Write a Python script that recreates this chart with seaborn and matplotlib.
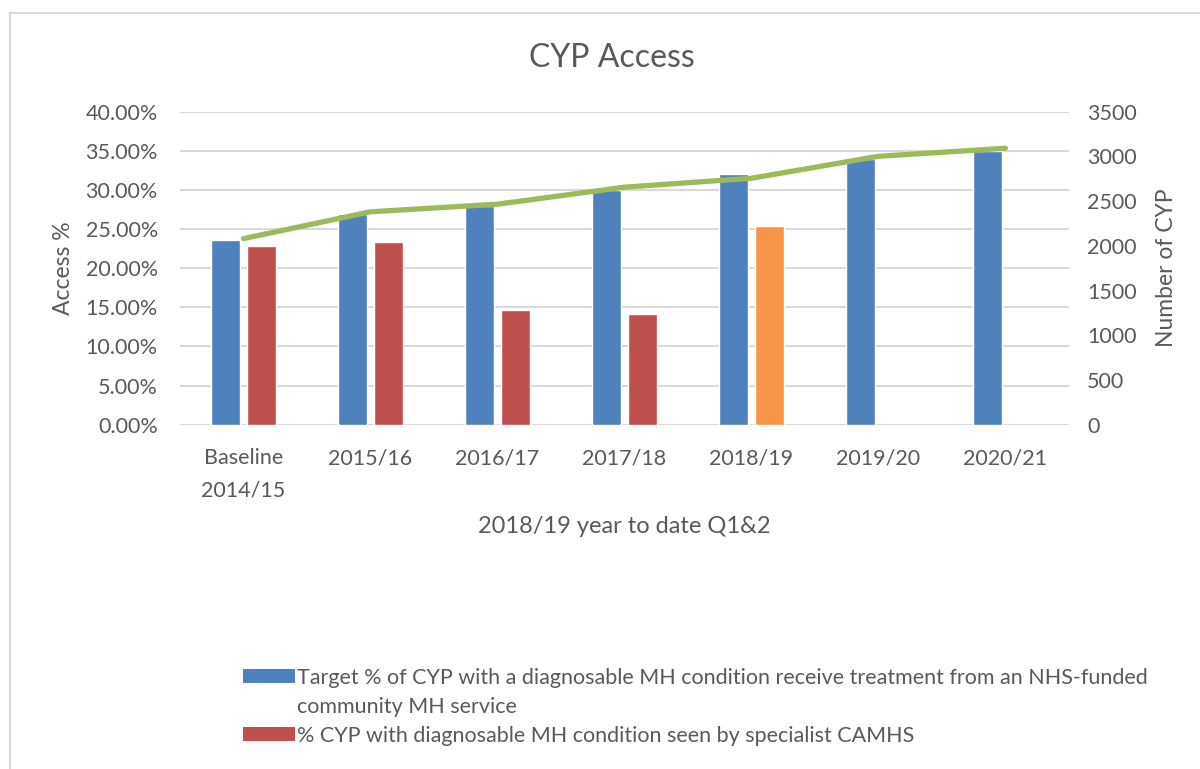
import numpy as np
import pandas as pd
import matplotlib
matplotlib.use("Agg")
import matplotlib.pyplot as plt
import seaborn as sns
from matplotlib.ticker import FuncFormatter, MultipleLocator
from matplotlib.patches import Patch
from matplotlib.lines import Line2D

categories = ["Baseline\n2014/15", "2015/16", "2016/17", "2017/18", "2018/19", "2019/20", "2020/21"]
target_pct = [0.236, 0.269, 0.280, 0.300, 0.320, 0.340, 0.350]
camhs_pct = [0.228, 0.234, 0.147, 0.142, 0.254, np.nan, np.nan]
number_cyp = [2080, 2380, 2465, 2655, 2755, 3000, 3090]

series_target = "Target % of CYP with a diagnosable MH condition receive treatment from an NHS-funded"
series_target_cont = "community MH service"
series_camhs = "% CYP with diagnosable MH condition seen by specialist CAMHS"

BLUE = "#4F81BD"
RED = "#C0504D"
ORANGE = "#F79646"
GREEN = "#9BBB59"
GRID = "#D9D9D9"
TXT = "#595959"

sns.set_theme(style="white")
plt.rcParams["font.family"] = ["Lato", "DejaVu Sans"]

TICK_FS = 15.5

df = pd.DataFrame({
    "Year": categories * 2,
    "Series": [series_target] * len(categories) + [series_camhs] * len(categories),
    "Value": target_pct + camhs_pct,
})

fig = plt.figure(figsize=(12, 7.69), dpi=100)
ax = fig.add_axes([0.15, 0.4477, 0.7408, 0.4072])

sns.barplot(data=df, x="Year", y="Value", hue="Series", order=categories,
            hue_order=[series_target, series_camhs],
            palette=[BLUE, RED], width=0.572, gap=0.2, ax=ax,
            legend=False, saturation=1, errorbar=None)

# Recolour the 2018/19 year-to-date CAMHS bar orange
for p in ax.patches:
    x_c = p.get_x() + p.get_width() / 2
    if abs(x_c - (4 + 0.143)) < 0.05 and p.get_height() > 0:
        p.set_facecolor(ORANGE)

ax.set_ylim(0, 0.40)
ax.yaxis.set_major_locator(MultipleLocator(0.05))
ax.yaxis.set_major_formatter(FuncFormatter(lambda v, _: f"{v*100:.2f}%"))
ax.grid(axis="y", color=GRID, linewidth=1.5)
ax.set_axisbelow(True)
for s in ax.spines.values():
    s.set_visible(False)
ax.tick_params(axis="y", length=0, pad=16, labelsize=TICK_FS, labelcolor=TXT)
ax.tick_params(axis="x", length=0, pad=17, labelsize=TICK_FS, labelcolor=TXT)
ax.set_ylabel("Access %", fontsize=16.5, color=TXT, labelpad=8)
ax.set_xlabel("2018/19 year to date Q1&2", fontsize=17, color=TXT, labelpad=11)

ax2 = ax.twinx()
sns.lineplot(x=np.arange(len(categories)), y=number_cyp, ax=ax2, color=GREEN,
             linewidth=3.8, solid_capstyle="round", solid_joinstyle="round")
ax2.set_ylim(0, 3500)
ax2.yaxis.set_major_locator(MultipleLocator(500))
for s in ax2.spines.values():
    s.set_visible(False)
ax2.tick_params(axis="y", length=0, pad=13, labelsize=TICK_FS, labelcolor=TXT)
ax2.set_ylabel("Number of CYP", fontsize=16.5, color=TXT, labelpad=14)
ax.set_xlim(-0.5, 6.5)
ax.set_xticks(range(len(categories)))
ax.set_xticklabels(categories, linespacing=1.75)

fig.text(0.51, 0.925, "CYP Access", ha="center", va="center", fontsize=23, color=TXT)

handles = [Patch(facecolor=BLUE, edgecolor="none"),
           Patch(facecolor="none", edgecolor="none"),
           Patch(facecolor=RED, edgecolor="none")]
leg = fig.legend(handles, [series_target, series_target_cont, series_camhs], loc="upper left",
                 bbox_to_anchor=(0.1955, 0.1427), frameon=False, fontsize=15.5,
                 labelcolor=TXT, handlelength=2.4, handleheight=0.65, handletextpad=0.12,
                 labelspacing=0.41, borderaxespad=0)

# chart-area border (left and top edges visible in the crop)
fig.add_artist(Line2D([10/1200, 10/1200], [0, 1 - 13/769], transform=fig.transFigure, color=GRID, linewidth=1.5))
fig.add_artist(Line2D([10/1200, 1], [1 - 13/769, 1 - 13/769], transform=fig.transFigure, color=GRID, linewidth=1.5))

fig.savefig("out.png", dpi=100, facecolor="white")
